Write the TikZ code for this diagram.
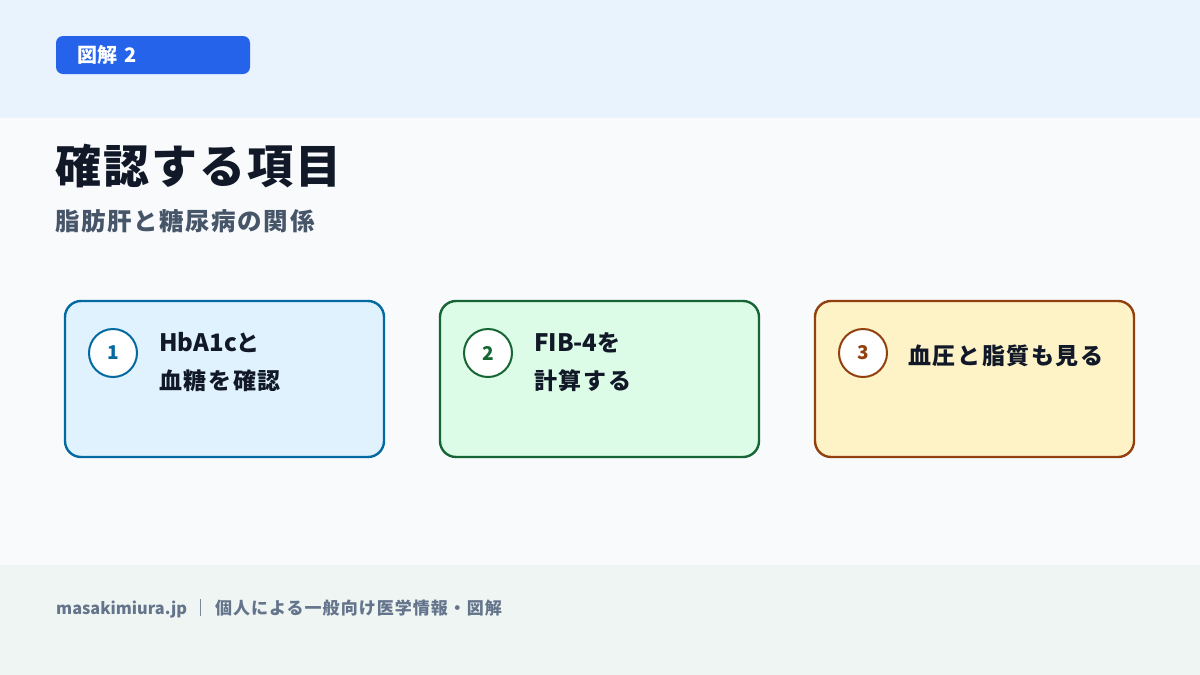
\documentclass[tikz,border=0pt]{standalone}
\usepackage{fontspec}
\setmainfont{Noto Sans CJK JP}
\newcommand{\lat}[1]{{\addfontfeatures{LetterSpace=0}\fontsize{24}{38}\selectfont #1}}
\begin{document}
\begin{tikzpicture}[x=1pt,y=-1pt,
  card/.style={draw, line width=2.4pt, rounded corners=16pt},
  numc/.style={circle, draw, line width=2pt, fill=white, minimum size=48pt, inner sep=0pt, font=\fontsize{19}{19}\selectfont\bfseries},
  ctext/.style={anchor=west, align=left, text=ink, inner sep=0pt, font=\fontsize{23}{38}\selectfont\bfseries\addfontfeatures{LetterSpace=7}}
]
\definecolor{topbg}{HTML}{E8F3FD}
\definecolor{midbg}{HTML}{F8FAFC}
\definecolor{footbg}{HTML}{EFF5F3}
\definecolor{badge}{HTML}{2563EB}
\definecolor{ink}{HTML}{111827}
\definecolor{sub}{HTML}{475569}
\definecolor{foot}{HTML}{64748B}
\definecolor{c1s}{HTML}{0369A1}\definecolor{c1f}{HTML}{E0F2FE}
\definecolor{c2s}{HTML}{166534}\definecolor{c2f}{HTML}{DCFCE7}
\definecolor{c3s}{HTML}{92400E}\definecolor{c3f}{HTML}{FEF3C7}
\useasboundingbox (0,0) rectangle (1200,675);
\fill[midbg] (0,0) rectangle (1200,675);
\fill[topbg] (0,0) rectangle (1200,118);
\fill[footbg] (0,565) rectangle (1200,675);
% badge
\fill[badge, rounded corners=7pt] (56,36) rectangle (250,74);
\node[anchor=west, text=white, inner sep=0pt, font=\fontsize{20}{20}\selectfont\bfseries] (badge) at (77,55) {図解\hspace{3pt} 2};
% title
\node[anchor=west, text=ink, inner sep=0pt, font=\fontsize{46}{46}\selectfont\bfseries\addfontfeatures{LetterSpace=4.6}] (title) at (55,166) {確認する項目};
\node[anchor=west, text=sub, inner sep=0pt, font=\fontsize{24.5}{24}\selectfont\bfseries\addfontfeatures{LetterSpace=6.5}] (subtitle) at (55,221) {脂肪肝と糖尿病の関係};
% cards
\draw[card, draw=c1s, fill=c1f] (65,301) rectangle (384,457);
\draw[card, draw=c2s, fill=c2f] (440,301) rectangle (759,457);
\draw[card, draw=c3s, fill=c3f] (815,301) rectangle (1134,457);
\node[numc, draw=c1s, text=c1s] (n1) at (113,353) {1};
\node[numc, draw=c2s, text=c2s] (n2) at (488,353) {2};
\node[numc, draw=c3s, text=c3s] (n3) at (863,353) {3};
\node[ctext] (t1) at (159,362) {\lat{HbA1c}と\\血糖を確認};
\node[ctext] (t2) at (534,362) {\lat{FIB-4}を\\計算する};
\node[ctext] (t3) at (908,356) {血圧と脂質も見る};
% footer
\node[anchor=west, text=foot, inner sep=0pt, font=\fontsize{17}{17}\selectfont\bfseries] (footer) at (56,609) {{\fontsize{16.3}{17}\selectfont masakimiura.jp}\hspace{5pt}｜\hspace{6pt}{\addfontfeatures{LetterSpace=6}個人による一般向け医学情報・図解}};
\end{tikzpicture}
\end{document}
